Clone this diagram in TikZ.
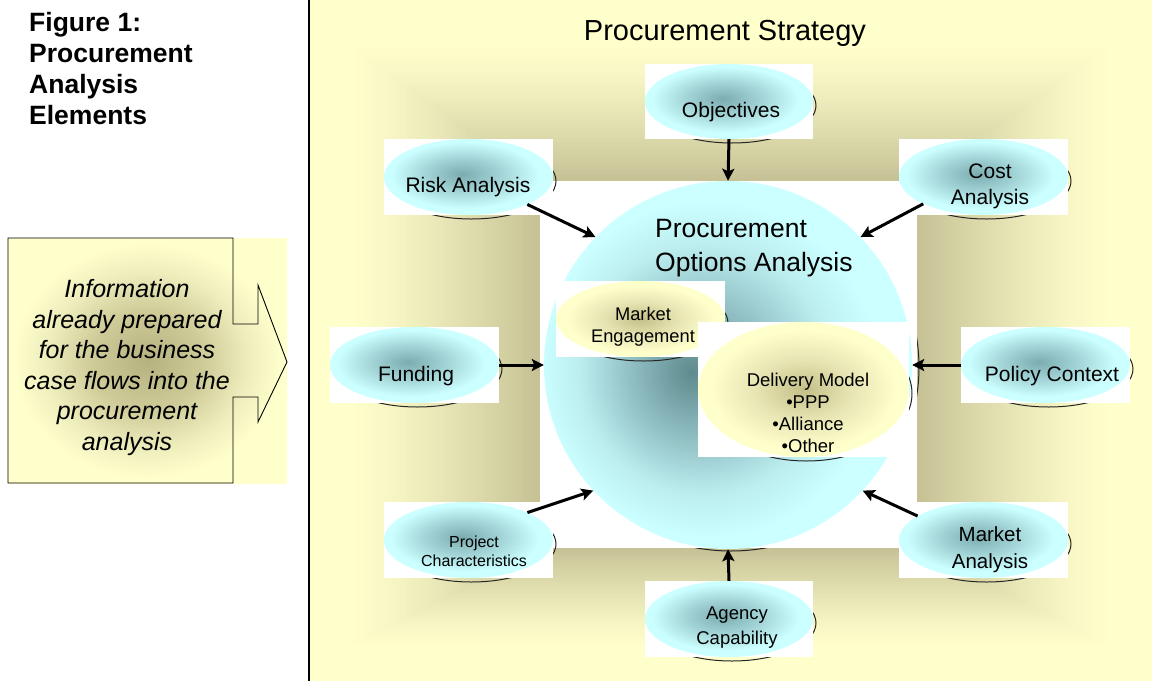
\documentclass[tikz,border=0pt]{standalone}
\usepackage{fontspec}
\setmainfont{Liberation Sans}
\usetikzlibrary{arrows.meta,shapes.geometric}
\definecolor{paneY}{RGB}{255,255,204}
\definecolor{oliveD}{RGB}{196,192,148}
\definecolor{cyanL}{RGB}{204,255,255}
\definecolor{cyanM}{RGB}{162,212,215}
\definecolor{cyanD}{RGB}{124,172,176}
\definecolor{bigD}{RGB}{95,138,142}
\definecolor{bigM}{RGB}{138,184,188}
\definecolor{bigN}{RGB}{188,238,240}
\definecolor{yelD}{RGB}{196,191,136}
\definecolor{yelM}{RGB}{230,228,178}
\definecolor{callD}{RGB}{182,178,128}
\definecolor{callM}{RGB}{206,203,152}
\definecolor{callN}{RGB}{238,237,188}
\pgfdeclareradialshading{cyanglow}{\pgfpoint{-2bp}{2bp}}{color(0bp)=(cyanD); color(11bp)=(cyanM); color(22bp)=(cyanL); color(50bp)=(cyanL)}
\pgfdeclareradialshading{yelglow}{\pgfpoint{0bp}{0bp}}{color(0bp)=(yelD); color(11bp)=(yelM); color(22bp)=(paneY); color(50bp)=(paneY)}
\pgfdeclareradialshading{bigglow}{\pgfpoint{-5bp}{-1bp}}{color(0bp)=(bigD); color(8bp)=(bigM); color(17bp)=(bigN); color(23bp)=(cyanL); color(50bp)=(cyanL)}
\pgfdeclareradialshading{callglow}{\pgfpoint{0bp}{0bp}}{color(0bp)=(callD); color(10bp)=(callM); color(18bp)=(callN); color(24bp)=(paneY); color(50bp)=(paneY)}
% name, cx, cy, w, h, shading
\newcommand\mybubble[6]{%
  \draw[line width=1pt, draw=black!85] ({#2+3},{#3+4}) ellipse [x radius={#4pt/2}, y radius={#5pt/2}];
  \fill[white] ({#2-#4/2},{#3-#5/2}) rectangle ({#2+#4/2},{#3+#5/2});
  \node[ellipse, minimum width=#4pt, minimum height=#5pt, inner sep=0pt, shade, shading=#6] (#1) at (#2,#3) {};
}
\begin{document}
\begin{tikzpicture}[x=1pt,y=-1pt,
  arr/.style={-{Stealth[length=12pt,width=12pt,inset=2.5pt]}, line width=3pt},
  txt/.style={inner sep=0pt, align=center, anchor=base}]
\useasboundingbox (0,0) rectangle (1152,681);
\fill[white] (0,0) rectangle (1152,681);
% right panel with rectangular glow
\fill[paneY] (309,0) rectangle (1152,681);
\foreach \i in {0,...,50}{
  \pgfmathsetmacro\t{\i/50}
  \pgfmathsetmacro\pc{100*\t^1.3}
  \pgfmathsetmacro\xa{345+195*\t}
  \pgfmathsetmacro\ya{42+139*\t}
  \pgfmathsetmacro\xb{1115-198*\t}
  \pgfmathsetmacro\yb{650-102*\t}
  \fill[oliveD!\pc!paneY] (\xa,\ya) rectangle (\xb,\yb);
}
\draw[line width=1.2pt] (309,0) -- (309,681);
% central circle
\draw[line width=1pt, draw=black!85] (731,367) ellipse [x radius=188pt, y radius=184pt];
\fill[white] (540,181) rectangle (917,548);
\node[circle, minimum size=368pt, inner sep=0pt, shade, shading=bigglow] (pa) at (728,365) {};
% outer bubbles
\mybubble{obj}{729}{101.5}{168}{75}{cyanglow}
\mybubble{risk}{468.5}{177}{169}{76}{cyanglow}
\mybubble{cost}{983.5}{177}{169}{76}{cyanglow}
\mybubble{fund}{414.5}{365}{169}{76}{cyanglow}
\mybubble{pol}{1045.5}{365}{169}{76}{cyanglow}
\mybubble{proj}{468.5}{540}{169}{76}{cyanglow}
\mybubble{mkt}{983.5}{540}{169}{76}{cyanglow}
\mybubble{ag}{729}{619}{168}{76}{cyanglow}
% inner bubbles
\mybubble{me}{640.5}{319}{169}{76}{yelglow}
\mybubble{dm}{803.5}{389.5}{211}{135}{yelglow}
% arrows
\draw[arr] (obj.south) -- (pa.north);
\draw[arr] (risk.-25) -- (pa.136);
\draw[arr] (cost.-156) -- (pa.44);
\draw[arr] (fund.east) -- (pa.west);
\draw[arr] (pol.west) -- (pa.east);
\draw[arr] (proj.25) -- (pa.-137);
\draw[arr] (mkt.160) -- (pa.-43.5);
\draw[arr] (ag.north) -- (pa.south);
% texts (multi-line nodes: base = last line)
\node[txt, font=\fontsize{29}{34}\selectfont] (title) at (725,40) {Procurement Strategy};
\node[txt, anchor=base west, align=left, font=\fontsize{26.5}{33.5}\selectfont] (paT) at (655,271) {Procurement\\Options Analysis};
\node[txt, font=\fontsize{21}{25}\selectfont] (objT) at (731,117.5) {Objectives};
\node[txt, font=\fontsize{21}{25}\selectfont] (riskT) at (468,192.5) {Risk Analysis};
\node[txt, font=\fontsize{21}{26}\selectfont] (costT) at (990,204) {Cost\\Analysis};
\node[txt, font=\fontsize{21}{25}\selectfont] (fundT) at (416,381.5) {Funding};
\node[txt, font=\fontsize{21}{25}\selectfont] (polT) at (1052,381) {Policy Context};
\node[txt, font=\fontsize{16}{19}\selectfont] (projT) at (474,566.5) {Project\\Characteristics};
\node[txt, font=\fontsize{20.5}{27}\selectfont] (mktT) at (990,568.5) {Market\\Analysis};
\node[txt, font=\fontsize{18.5}{25}\selectfont] (agT) at (737,644.5) {Agency\\Capability};
\node[txt, font=\fontsize{18.3}{22}\selectfont] (meT) at (643,342.7) {Market\\Engagement};
\node[txt, font=\fontsize{18.5}{22}\selectfont] (dmT) at (808,452.7) {Delivery Model\\•PPP\\•Alliance\\•Other};
% left callout
\shade[shading=callglow] (8,238) rectangle (287,483);
\draw[line width=0.9pt] (8,238) -- (233,238) -- (233,324) -- (258,324) -- (258,285) -- (287,362) -- (258,422) -- (258,397) -- (233,397) -- (233,483) -- (8,483) -- cycle;
\node[txt, font=\fontsize{25}{30.5}\selectfont\itshape] (callT) at (127,450) {Information\\already prepared\\for the business\\case flows into the\\procurement\\analysis};
\node[txt, anchor=base west, align=left, font=\bfseries\fontsize{26.5}{31}\selectfont] (figT) at (29,124.5) {Figure 1:\\Procurement\\Analysis\\Elements};
\end{tikzpicture}
\end{document}
